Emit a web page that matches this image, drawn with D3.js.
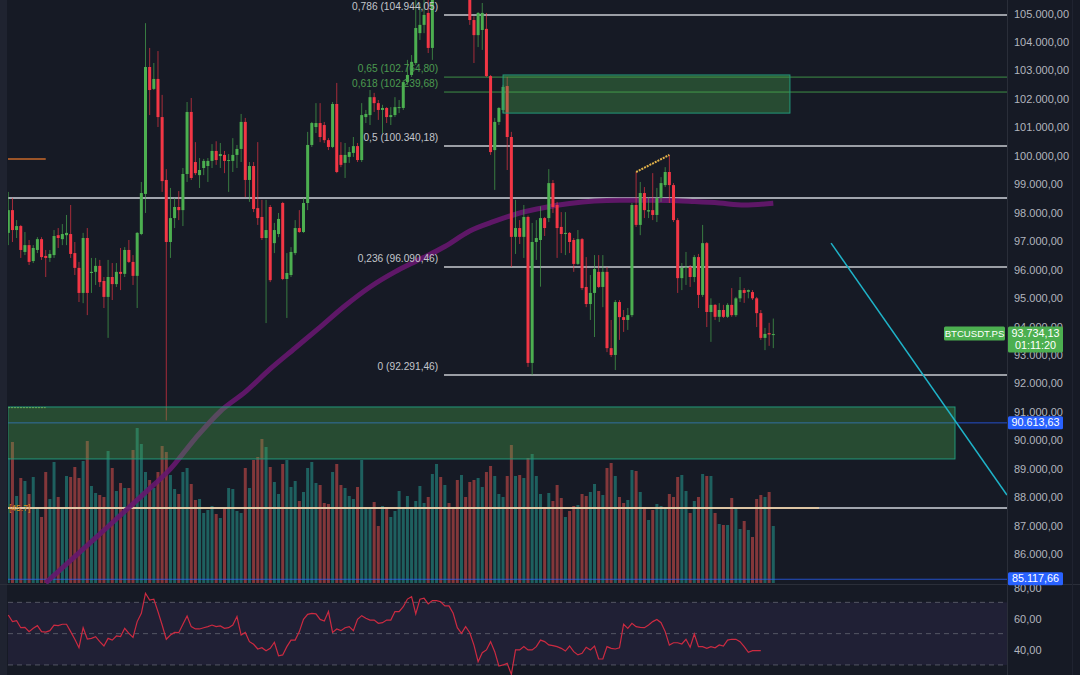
<!DOCTYPE html>
<html>
<head>
<meta charset="utf-8">
<script src="https://d3js.org/d3.v7.min.js"></script>
<style>
html, body { margin: 0; padding: 0; background: #161a25; }
svg { display: block; }
</style>
</head>
<body>
<div id="chart"></div>
<script>
'use strict';

// candles (BTCUSDT.PS)
var opens = [
	97290, 98090, 97390, 97530, 96620, 96860, 96300, 96690, 97070, 96480,
	96410, 96510, 97210, 97070, 97210, 97250, 96580, 96060, 95180, 97110,
	95880, 95920, 96130, 95600, 95040, 95740, 95490, 95920, 95850, 96690,
	96270, 95780, 97250, 98660, 103120, 102350, 102700, 101360, 99150, 96970,
	97810, 98200, 98090, 99360, 101540, 99780, 99320, 99570, 99640, 99820,
	100170, 99990, 100030, 99820, 99820, 100030, 100240, 101190, 99150, 99640,
	98160, 97850, 97110, 98200, 96930, 97250, 98340, 95670, 95810, 96580,
	97460, 97320, 98340, 100380, 101010, 101150, 101080, 100550, 100310, 101820,
	100030, 99750, 99960, 100100, 100340, 99850, 101360, 101430, 102060, 101850,
	101610, 101680, 101360, 101430, 101680, 101680, 102590, 102840, 103260, 104310,
	104600, 105020, 103790, 105600, 106300, 105900, 106700, 106300, 106000, 105750,
	106400, 105700, 104770, 104240, 104420, 104460, 102800, 100200, 101190, 101610,
	102450, 100660, 97150, 97460, 97150, 97850, 92720, 96970, 97040, 97810,
	97810, 99040, 98270, 97500, 97250, 97290, 97040, 96200, 97070, 95390,
	94790, 95180, 95920, 95390, 95920, 93240, 93000, 94860, 94330, 94230,
	94400, 98270, 97570, 98690, 98040, 98090, 97920, 98520, 98970, 99430,
	98970, 97740, 95700, 96060, 96090, 95740, 96440, 95110, 96930, 94510,
	94760, 94340, 94580, 94340, 94760, 94400, 94990, 95280, 95220, 95210,
	94990, 94470, 93600, 93770, 93700
];
var highs = [
	98730, 98520, 97740, 97570, 97320, 97040, 96860, 97140, 97140, 96690,
	96690, 97390, 97460, 97600, 97920, 98270, 96970, 96270, 97290, 97460,
	96410, 96410, 96340, 95740, 96340, 96230, 96230, 96760, 96790, 97040,
	96510, 97320, 99080, 104660, 103790, 103260, 103680, 102140, 99530, 98870,
	98520, 98760, 99570, 101890, 102030, 100480, 99920, 99890, 99920, 100410,
	100510, 100450, 100170, 100060, 100620, 100380, 101470, 101330, 99780, 99780,
	100480, 98450, 98450, 98270, 97640, 97990, 98380, 96580, 96790, 97740,
	98090, 98520, 100840, 101190, 101850, 101850, 101190, 100620, 101890, 102560,
	100480, 100450, 100310, 100660, 100450, 101850, 101610, 102310, 102210, 101960,
	101790, 101710, 101710, 102060, 101960, 102660, 103370, 103540, 105470, 105370,
	105500, 105550, 105900, 106500, 106600, 106900, 107000, 106500, 106200, 106600,
	106500, 105900, 104900, 105050, 105370, 105020, 102840, 101330, 101710, 102490,
	102770, 100840, 98450, 97740, 98270, 97900, 97640, 97740, 98220, 97850,
	99530, 99150, 98380, 98020, 98020, 97320, 97110, 97390, 97110, 96440,
	95810, 96510, 96510, 96510, 96090, 94230, 94930, 94930, 94580, 94650,
	98340, 99430, 99080, 98900, 98550, 99390, 98870, 99250, 99600, 100030,
	99040, 97810, 96230, 96620, 96160, 96510, 96550, 97570, 96970, 94990,
	94790, 94820, 94760, 94820, 95350, 95040, 95740, 95350, 95300, 95280,
	95040, 94580, 93950, 94130, 94280
];
var lows = [
	96860, 96970, 97110, 96410, 96510, 96160, 96230, 96580, 96340, 95740,
	96270, 96410, 96760, 96860, 96860, 96410, 95810, 94860, 94820, 94400,
	95180, 95460, 95390, 94650, 93600, 94930, 95390, 95280, 95740, 96230,
	95460, 94650, 97210, 97990, 101430, 102310, 101010, 98730, 90700, 96410,
	97460, 97740, 97530, 99080, 99150, 99320, 98870, 99320, 99080, 99570,
	99680, 99570, 99390, 98730, 99430, 99570, 99780, 98550, 98380, 98020,
	97570, 97040, 94120, 95560, 96580, 97140, 95630, 94300, 95740, 96510,
	97290, 97290, 98090, 100310, 100800, 100480, 100450, 100200, 100270, 99390,
	99600, 99220, 99750, 99960, 99780, 99780, 101150, 101080, 101540, 101260,
	100800, 101150, 101080, 101360, 101500, 101610, 102490, 102770, 103190, 104070,
	104310, 103610, 103370, 105550, 105700, 105800, 106100, 105800, 105600, 105650,
	105600, 104600, 103260, 103820, 103720, 102770, 100030, 98800, 101080, 101500,
	99500, 96090, 96550, 96900, 96410, 92580, 92290, 96340, 95400, 97180,
	97670, 97990, 96410, 96580, 96510, 96580, 95920, 96160, 95280, 94680,
	94230, 93630, 95350, 94680, 93100, 92930, 92470, 93530, 93810, 93880,
	94330, 97500, 97210, 97810, 97810, 97740, 97670, 98380, 98900, 98340,
	97670, 95180, 95280, 95460, 95390, 95560, 94650, 95040, 93980, 93460,
	94230, 94160, 94300, 94300, 94340, 94340, 94860, 94830, 94990, 94930,
	93980, 93530, 93170, 93320, 93240
];
var closes = [
	98090, 97390, 97530, 96690, 96860, 96270, 96760, 97070, 96440, 96410,
	96550, 97180, 97110, 97250, 97290, 96550, 96060, 95180, 97110, 95180,
	95920, 96130, 95560, 95040, 95740, 95490, 95920, 95850, 96690, 96270,
	95780, 97290, 98690, 103120, 102310, 102700, 101360, 99110, 96970, 97810,
	98200, 98090, 99360, 101540, 99220, 99390, 99500, 99820, 99820, 100170,
	99850, 100060, 99820, 99850, 100030, 100240, 101190, 99150, 99640, 98130,
	97810, 97110, 97390, 95630, 97390, 97780, 95670, 95880, 96620, 97460,
	97320, 98340, 100380, 101150, 101150, 100660, 100550, 100310, 101820, 99430,
	99680, 100030, 100130, 100340, 99850, 101430, 101470, 102060, 101850, 101610,
	101680, 101360, 101430, 101710, 101710, 102590, 102840, 103300, 104490, 104600,
	104950, 103790, 105600, 106300, 105900, 106700, 106300, 106000, 105750, 106400,
	105700, 104770, 104240, 105020, 105020, 102800, 100130, 101190, 101680, 102420,
	100660, 97150, 97460, 97150, 97850, 92720, 96970, 97110, 97810, 97460,
	99040, 98200, 97460, 97250, 97290, 96970, 96200, 97070, 95350, 94790,
	95180, 96020, 95390, 95920, 93240, 93000, 94860, 94330, 94230, 94400,
	98270, 97570, 98690, 98090, 98090, 97920, 98520, 99040, 99430, 98970,
	97740, 95700, 96060, 96090, 95740, 96440, 95110, 96930, 94510, 94760,
	94340, 94580, 94340, 94760, 94400, 94990, 95280, 95180, 95280, 94990,
	94470, 93600, 93740, 93720, 93734.13
];
var volumes = [
	125, 141, 87, 105, 102, 89, 106, 76, 66, 111,
	84, 121, 86, 76, 107, 106, 116, 105, 122, 142,
	97, 90, 88, 86, 132, 115, 92, 100, 95, 95,
	133, 155, 139, 111, 103, 95, 111, 137, 131, 108,
	94, 89, 111, 115, 99, 83, 84, 70, 73, 77,
	69, 65, 75, 95, 94, 72, 70, 115, 95, 123,
	126, 144, 136, 116, 101, 89, 119, 123, 96, 102,
	82, 91, 115, 121, 100, 98, 80, 79, 111, 119,
	98, 95, 87, 84, 96, 123, 76, 76, 81, 57,
	77, 76, 66, 72, 92, 76, 87, 76, 82, 97,
	80, 86, 109, 119, 106, 98, 80, 76, 103, 108,
	86, 101, 103, 105, 96, 111, 117, 107, 89, 86,
	107, 138, 107, 108, 105, 125, 129, 107, 89, 76,
	90, 82, 98, 85, 66, 72, 77, 78, 89, 87,
	91, 99, 92, 88, 115, 120, 107, 86, 80, 83,
	113, 112, 91, 76, 63, 73, 79, 77, 75, 89,
	86, 106, 108, 92, 70, 82, 86, 109, 107, 107,
	70, 59, 58, 58, 85, 75, 54, 62, 53, 46,
	84, 88, 86, 91, 57
];
var rsiValues = [
	61.9, 57.7, 58.3, 53.8, 54.0, 51.3, 53.4, 55.1, 51.3, 51.0,
	51.9, 55.5, 55.1, 56.0, 56.0, 51.3, 46.4, 41.0, 53.8, 46.6,
	47.0, 48.1, 44.9, 42.1, 47.0, 45.9, 48.5, 48.1, 53.4, 50.2,
	47.6, 57.7, 63.0, 75.8, 71.5, 72.0, 64.1, 55.5, 46.4, 49.1,
	50.8, 50.6, 56.0, 61.3, 54.5, 53.0, 53.0, 53.8, 54.5, 55.5,
	54.5, 54.9, 53.4, 53.8, 55.5, 60.9, 49.1, 50.8, 44.9, 43.2,
	40.2, 41.0, 39.1, 40.6, 44.5, 35.9, 36.4, 41.7, 45.9, 45.9,
	51.3, 59.1, 62.3, 63.0, 62.6, 59.1, 58.1, 64.1, 50.8, 53.0,
	51.9, 53.8, 54.5, 51.9, 59.1, 61.5, 59.8, 58.7, 58.7, 56.6,
	57.0, 58.7, 58.7, 64.1, 64.1, 67.2, 72.1, 73.6, 62.6, 72.0,
	72.6, 69.0, 71.1, 71.1, 70.4, 67.7, 67.7, 63.0, 53.8, 50.2,
	54.5, 50.6, 42.7, 32.1, 37.8, 39.6, 44.9, 38.5, 29.3, 30.0,
	31.0, 24.0, 39.6, 39.6, 41.7,
	39.6, 39.6, 41.7, 45.9, 44.9, 42.8, 42.3, 41.7, 40.6, 38.9,
	42.1, 38.5, 36.4, 37.4, 41.3, 39.6, 42.1, 33.8, 33.8, 41.7,
	40.6, 40.2, 41.0, 56.0, 53.4, 56.6, 54.5, 54.0, 53.8, 55.5,
	57.7, 59.1, 57.0, 51.3, 42.7, 44.2, 44.2, 43.4, 46.4, 41.3,
	49.8, 41.7, 41.7, 40.6, 41.7, 41.0, 42.8, 42.1, 45.9, 46.4,
	46.4, 44.9, 41.7, 38.1, 39.1, 39.1, 39.1
];

// moving average (purple), sampled at bar indices
var maIndex = [9, 15, 21, 27, 33, 39, 45, 51, 57, 63, 69, 75, 81, 87, 93, 99, 105, 111, 117, 123, 129, 135, 141, 147, 153, 159, 165, 171, 177, 184];
var maValues = [84990, 85780, 86570, 87370, 88170, 88995, 90070, 91020, 91700, 92510, 93245, 93980, 94730, 95390, 95920, 96360, 96810, 97357, 97700, 97990, 98180, 98320, 98410, 98440, 98440, 98430, 98390, 98340, 98270, 98330];

// fibonacci retracement
var fibLevels = ['0,786', '0,65', '0,618', '0,5', '0,236', '0'];
var fibPrices = [104944.05, 102764.80, 102239.68, 100340.18, 96090.46, 92291.46];
var fibGreen = [false, true, true, false, false, false];

var priceTicks = [105000, 104000, 103000, 102000, 101000, 100000, 99000, 98000, 97000, 96000, 95000, 94000, 93000, 92000, 91000, 90000, 89000, 88000, 87000, 86000];
var rsiTicks = [80, 60, 40];
var rsiGuides = [70, 50, 30];

// drawings
var whiteLevels = [98520, 87620];
var blueLevels = [90613.63, 85117.66];
var zoneTopIdx = [119, 188], zoneTopPrice = [101500, 102840];
var zoneLowIdx = [-0.1, 227.7], zoneLowPrice = [89345, 91172];
var trendIdx = [197.9, 240.2], trendPrice = [96930, 88080];
var wedgeIdx = [151, 159], wedgePrice = [99430, 100030];
var lastPrice = 93734.13;

var W = 1080, H = 675, plotL = 8, plotR = 1007, paneBottom = 584;

var loc = d3.formatLocale({ decimal: ',', thousands: '.', grouping: [3], currency: ['', ''] });
var fmt = loc.format(',.2f');

var x = d3.scaleLinear().domain([0, 184]).range([8.3, 773.3]);
var y = d3.scaleLinear().domain([85000, 105000]).range([582.6, 13.5]);
var yVol = d3.scaleLinear().domain([0, 193]).range([583, 390]);
var yRsi = d3.scaleLinear().domain([40, 80]).range([649.3, 586.7]);

var up = '#4caf50', down = '#f23645';
var n = opens.length;
var idx = d3.range(n);
function isUp(i) { return closes[i] >= opens[i]; }

var svg = d3.select('#chart').append('svg')
	.attr('width', W).attr('height', H)
	.style('font-family', '"Liberation Sans", Arial, sans-serif');

svg.append('rect').attr('width', W).attr('height', H).attr('fill', '#161a25');
svg.append('rect').attr('width', 7).attr('height', H).attr('fill', '#1f2330');

var defs = svg.append('defs');
defs.append('clipPath').attr('id', 'mainClip').append('rect')
	.attr('x', plotL).attr('y', 0).attr('width', plotR - plotL).attr('height', paneBottom);

var main = svg.append('g').attr('clip-path', 'url(#mainClip)');

// volume
main.append('g').selectAll('rect').data(idx).enter().append('rect')
	.attr('x', function(i) { return x(i) - 1.5; })
	.attr('width', 3)
	.attr('y', function(i) { return yVol(volumes[i]); })
	.attr('height', function(i) { return yVol(0) - yVol(volumes[i]); })
	.attr('fill', function(i) { return isUp(i) ? 'rgba(38,166,154,0.5)' : 'rgba(239,83,80,0.5)'; });

// horizontal levels
main.selectAll('line.white').data(whiteLevels).enter().append('line')
	.attr('x1', plotL).attr('x2', plotR)
	.attr('y1', function(d) { return y(d); }).attr('y2', function(d) { return y(d); })
	.attr('stroke', '#d1d4dc').attr('stroke-width', 1.5);
main.append('line')
	.attr('x1', plotL).attr('x2', x(195))
	.attr('y1', y(whiteLevels[1])).attr('y2', y(whiteLevels[1]))
	.attr('stroke', '#f3d2a2').attr('stroke-width', 1.5);
main.append('text').attr('x', 9).attr('y', y(whiteLevels[1]) + 3)
	.attr('fill', '#d8891c').attr('font-size', 8.5).text('[45.7]');

main.selectAll('line.blue').data(blueLevels).enter().append('line')
	.attr('x1', plotL).attr('x2', plotR)
	.attr('y1', function(d) { return y(d); }).attr('y2', function(d) { return y(d); })
	.attr('stroke', '#2962ff').attr('stroke-opacity', 0.75).attr('stroke-width', 1);

// small marks at the left edge
main.append('line').attr('x1', plotL).attr('x2', x(9))
	.attr('y1', y(99890)).attr('y2', y(99890))
	.attr('stroke', '#c8692a').attr('stroke-width', 1.5);
main.append('line').attr('x1', plotL).attr('x2', x(9))
	.attr('y1', y(91150)).attr('y2', y(91150))
	.attr('stroke', '#c9c23a').attr('stroke-width', 1).attr('stroke-dasharray', '2,1');

// moving average
var maLine = d3.line()
	.x(function(d, k) { return x(maIndex[k]); })
	.y(function(d) { return y(d); })
	.curve(d3.curveMonotoneX);
main.append('path').datum(maValues)
	.attr('d', maLine)
	.attr('fill', 'none').attr('stroke', '#66176f').attr('stroke-width', 5).attr('stroke-opacity', 0.9);

// fib lines
var fibX0 = x(104.8);
main.selectAll('line.fib').data(fibPrices).enter().append('line')
	.attr('x1', fibX0).attr('x2', plotR)
	.attr('y1', function(d) { return y(d); }).attr('y2', function(d) { return y(d); })
	.attr('stroke', function(d, k) { return fibGreen[k] ? '#3f8f46' : '#c9cbd0'; })
	.attr('stroke-width', function(d, k) { return fibGreen[k] ? 1 : 1.5; });

// candles
var cg = main.append('g');
cg.selectAll('line').data(idx).enter().append('line')
	.attr('x1', function(i) { return x(i); }).attr('x2', function(i) { return x(i); })
	.attr('y1', function(i) { return y(highs[i]); })
	.attr('y2', function(i) { return y(lows[i]); })
	.attr('stroke', function(i) { return isUp(i) ? up : down; })
	.attr('stroke-opacity', 0.65).attr('stroke-width', 1);
cg.selectAll('rect').data(idx).enter().append('rect')
	.attr('x', function(i) { return x(i) - 1.5; })
	.attr('width', 3)
	.attr('y', function(i) { return y(Math.max(opens[i], closes[i])); })
	.attr('height', function(i) { return Math.max(1, Math.abs(y(opens[i]) - y(closes[i]))); })
	.attr('fill', function(i) { return isUp(i) ? up : down; });

// zones
function zone(ix, pr) {
	main.append('rect')
		.attr('x', x(ix[0])).attr('width', x(ix[1]) - x(ix[0]))
		.attr('y', y(pr[1])).attr('height', y(pr[0]) - y(pr[1]))
		.attr('fill', 'rgba(76,175,80,0.33)')
		.attr('stroke', '#22987a').attr('stroke-width', 1);
}
zone(zoneTopIdx, zoneTopPrice);
zone(zoneLowIdx, zoneLowPrice);

// trend line and wedge top
main.append('line')
	.attr('x1', x(trendIdx[0])).attr('y1', y(trendPrice[0]))
	.attr('x2', x(trendIdx[1])).attr('y2', y(trendPrice[1]))
	.attr('stroke', '#1fb3c8').attr('stroke-width', 1.5);
main.append('line')
	.attr('x1', x(wedgeIdx[0])).attr('y1', y(wedgePrice[0]))
	.attr('x2', x(wedgeIdx[1])).attr('y2', y(wedgePrice[1]))
	.attr('stroke', '#e0b04a').attr('stroke-width', 2).attr('stroke-dasharray', '2,1');

// fib labels
svg.append('g').selectAll('text').data(fibPrices).enter().append('text')
	.attr('x', x(103.4)).attr('y', function(d) { return y(d) - 5; })
	.attr('text-anchor', 'end').attr('font-size', 10.2)
	.attr('fill', function(d, k) { return fibGreen[k] ? '#4c9a50' : '#c3c6cc'; })
	.text(function(d, k) { return fibLevels[k] + ' (' + fmt(d) + ')'; });

// RSI pane
svg.append('rect')
	.attr('x', plotL).attr('width', plotR - plotL)
	.attr('y', yRsi(70)).attr('height', yRsi(30) - yRsi(70))
	.attr('fill', 'rgba(126,87,194,0.1)');
svg.selectAll('line.rsig').data(rsiGuides).enter().append('line')
	.attr('x1', plotL).attr('x2', plotR)
	.attr('y1', function(d) { return yRsi(d); }).attr('y2', function(d) { return yRsi(d); })
	.attr('stroke', '#787b86').attr('stroke-opacity', 0.6).attr('stroke-dasharray', '5,4');
var rsiLine = d3.line()
	.x(function(d, i) { return x(i); })
	.y(function(d) { return yRsi(d); });
svg.append('path').datum(rsiValues)
	.attr('d', rsiLine)
	.attr('fill', 'none').attr('stroke', '#cc2a41').attr('stroke-width', 1.2);

// separators
svg.append('line').attr('x1', 0).attr('x2', W).attr('y1', paneBottom + 0.5).attr('y2', paneBottom + 0.5)
	.attr('stroke', '#2a2e39');
svg.append('line').attr('x1', plotR + 0.5).attr('x2', plotR + 0.5).attr('y1', 0).attr('y2', H)
	.attr('stroke', '#2a2e39');
svg.append('line').attr('x1', 1072.5).attr('x2', 1072.5).attr('y1', 0).attr('y2', H)
	.attr('stroke', '#1f2330');

// price axis
var axisG = svg.append('g').attr('transform', 'translate(' + (plotR + 1) + ',0)')
	.call(d3.axisRight(y).tickValues(priceTicks).tickSize(0).tickPadding(6).tickFormat(fmt));
axisG.select('.domain').remove();
axisG.selectAll('text').attr('fill', '#b2b5be').attr('font-size', 11)
	.style('font-family', '"Liberation Sans", Arial, sans-serif');

var rsiAxis = svg.append('g').attr('transform', 'translate(' + (plotR + 1) + ',0)')
	.call(d3.axisRight(yRsi).tickValues(rsiTicks).tickSize(0).tickPadding(6).tickFormat(fmt));
rsiAxis.select('.domain').remove();
rsiAxis.selectAll('text').attr('fill', '#b2b5be').attr('font-size', 11)
	.attr('dy', '0.4em')
	.style('font-family', '"Liberation Sans", Arial, sans-serif');

// badges
function badge(x0, yc, w, h, color, lines, size) {
	svg.append('rect').attr('x', x0).attr('y', yc - h / 2).attr('width', w).attr('height', h)
		.attr('rx', 1.5).attr('fill', color);
	lines.forEach(function(t, k) {
		svg.append('text').attr('x', x0 + w / 2)
			.attr('y', yc - h / 2 + 10 + k * 12)
			.attr('text-anchor', 'middle')
			.attr('fill', '#ffffff').attr('font-size', size).text(t);
	});
}
badge(944, y(lastPrice) - 0.5, 61, 14, '#4caf50', ['BTCUSDT.PS'], 9.6);
badge(plotR + 1, y(lastPrice) + 5.5, 55, 26, '#4caf50', [fmt(lastPrice), '01:11:20'], 10.8);
badge(plotR + 1, y(blueLevels[0]), 55, 13, '#2962ff', [fmt(blueLevels[0])], 10.8);
badge(plotR + 1, y(blueLevels[1]) - 0.5, 55, 13, '#2962ff', [fmt(blueLevels[1])], 10.8);
</script>
</body>
</html>
